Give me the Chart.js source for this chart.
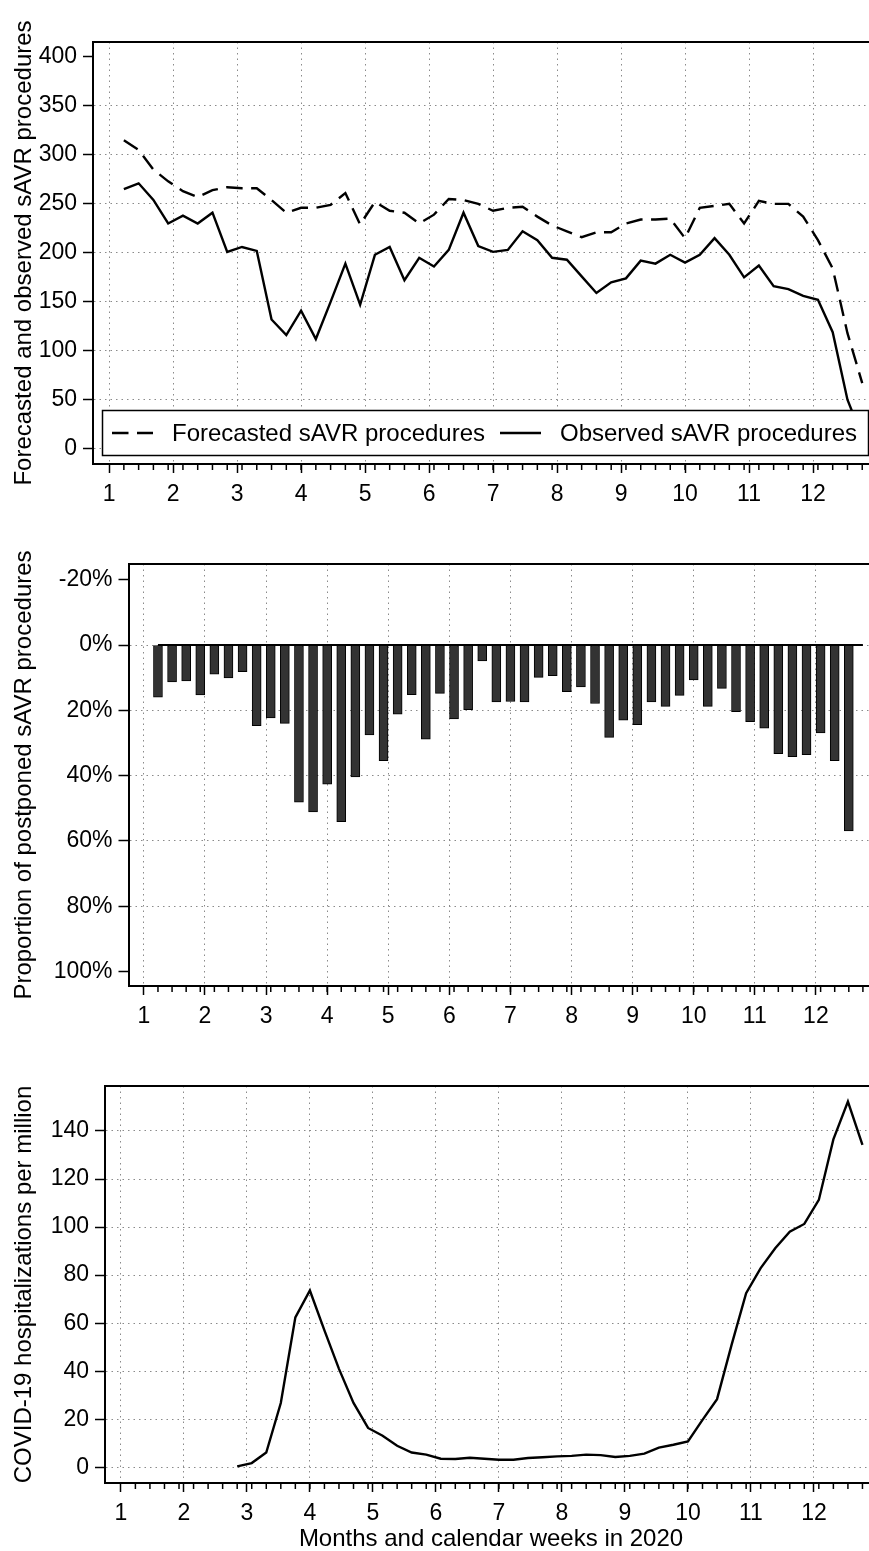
<!DOCTYPE html>
<html>
<head>
<meta charset="utf-8">
<title>sAVR procedures 2020</title>
<script src="https://cdn.jsdelivr.net/npm/chart.js@4.4.1/dist/chart.umd.min.js"></script>
<style>
  html, body { margin: 0; padding: 0; background: #fff; overflow: hidden; }
  #page { position: relative; width: 869px; height: 1551px; overflow: hidden; }
  canvas { position: absolute; left: 0; }
</style>
</head>
<body>
<div id="page">
  <canvas id="grafTop" width="880" height="530" style="top:0px"></canvas>
  <canvas id="grafMid" width="880" height="520" style="top:530px"></canvas>
  <canvas id="grafBot" width="880" height="504" style="top:1050px"></canvas>
</div>
<script>
//Calendar weeks of 2020 and month labels
const weeks = [1, 2, 3, 4, 5, 6, 7, 8, 9, 10, 11, 12, 13, 14, 15, 16, 17, 18, 19, 20,
  21, 22, 23, 24, 25, 26, 27, 28, 29, 30, 31, 32, 33, 34, 35, 36, 37, 38, 39, 40,
  41, 42, 43, 44, 45, 46, 47, 48, 49, 50, 51];
const months = ['1', '2', '3', '4', '5', '6', '7', '8', '9', '10', '11', '12'];

//Forecasted and observed sAVR procedures per week
const forecasted = [315, 305, 285, 273, 263, 257, 264, 267, 266, 266,
  254, 241, 246, 246, 249, 261, 229, 252, 243, 241,
  230, 239, 255, 254, 250, 243, 246, 247, 237, 228,
  222, 216, 221, 221, 230, 234, 234, 235, 215, 246,
  248, 250, 230, 253, 250, 250, 237, 213, 184, 118, 67];
const observed = [265, 271, 254, 230, 238, 230, 241, 201, 206, 202,
  132, 116, 141, 112, 150, 189, 147, 198, 206, 172,
  195, 186, 203, 241, 207, 201, 203, 222, 213, 195,
  193, 176, 159, 170, 174, 192, 189, 198, 190, 198,
  215, 198, 175, 187, 166, 163, 156, 152, 119, 50, 12];

//Proportion of postponed procedures, %
const postponed = [16.0, 11.3, 11.0, 15.3, 8.9, 10.1, 8.2, 24.7, 22.3, 24.0,
  48.1, 51.1, 42.6, 54.1, 40.4, 27.5, 35.4, 21.2, 15.2, 28.8,
  14.8, 22.6, 19.8, 4.9, 17.4, 17.3, 17.4, 9.9, 9.4, 14.3,
  12.8, 17.9, 28.3, 23.0, 24.4, 17.4, 18.8, 15.4, 10.7, 18.8,
  13.3, 20.4, 23.5, 25.5, 33.3, 34.2, 33.6, 26.9, 35.4, 56.9];

//COVID-19 hospitalizations per million
const hospitalizations = [null, null, null, null, null, null, null, 0.4, 1.8, 6.2,
  26.8, 62.4, 73.6, 57, 41, 26.8, 16.4, 13.2, 9.0, 6.2,
  5.3, 3.6, 3.5, 4.0, 3.6, 3.2, 3.2, 3.9, 4.2, 4.6,
  4.8, 5.3, 5.1, 4.3, 4.8, 5.7, 8.2, 9.4, 10.8, 19.8,
  28.4, 51, 72.5, 82.9, 91.2, 98.1, 101.3, 111.3, 136.5, 152.2, 134.2];

//Tick labels of the y axes
const countTicks = [0, 50, 100, 150, 200, 250, 300, 350, 400];
const pctTicks = [-20, 0, 20, 40, 60, 80, 100];
const hospTicks = [0, 20, 40, 60, 80, 100, 120, 140];

const FONT = '"Liberation Sans", Arial, Helvetica, sans-serif';
const GRID = '#8a8a8a';
Chart.defaults.font.family = FONT;
Chart.defaults.color = '#000';
Chart.defaults.animation = false;

const points = (values) => weeks.slice(0, values.length).map((w, i) => ({ x: w, y: values[i] }));

//x axis in weeks, month labels at the month starts
function xAxis(height, title) {
  return {
    type: 'linear', min: -1.09, max: 52, offset: false,
    afterBuildTicks: (s) => { s.ticks = months.map((m, i) => ({ value: i * 52 / 12 })); },
    afterFit: (s) => { s.height = height; },
    ticks: { callback: (v, i) => months[i], font: { size: 23 }, padding: 8, maxRotation: 0, autoSkip: false },
    grid: { offset: false, color: GRID, lineWidth: 1, tickColor: '#000', tickLength: 9, tickWidth: 1.5 },
    border: { color: '#000', width: 2, dash: [1.5, 4] },
    title: title
      ? { display: true, text: title, font: { size: 24 }, padding: { top: 0, bottom: 0 } }
      : { display: false }
  };
}

function yAxis(o) {
  return {
    type: 'linear', min: o.min, max: o.max, reverse: !!o.reverse,
    afterBuildTicks: (s) => { s.ticks = o.ticks.map(v => ({ value: v })); },
    afterFit: (s) => { s.width = o.width; },
    ticks: { callback: o.fmt || (v => String(v)), font: { size: 23 }, padding: 6, autoSkip: false },
    grid: {
      color: (ctx) => (ctx.tick && (o.noGrid || []).includes(ctx.tick.value)) ? 'rgba(0,0,0,0)' : GRID,
      lineWidth: 1, tickColor: '#000', tickLength: 10, tickWidth: 1.5
    },
    border: { color: '#000', width: 2, dash: [1.5, 4] },
    title: { display: true, text: o.title, font: { size: 24 }, padding: { top: 10, bottom: 0 } }
  };
}

//Top and right side of the plot box
const frame = {
  id: 'frame',
  afterDraw(chart) {
    const { ctx, chartArea: a } = chart;
    ctx.save();
    ctx.strokeStyle = '#000';
    ctx.lineWidth = 2;
    ctx.beginPath();
    ctx.moveTo(a.left, a.top);
    ctx.lineTo(a.right, a.top);
    ctx.lineTo(a.right, a.bottom);
    ctx.stroke();
    ctx.restore();
  }
};

//Small ticks for every calendar week
const weekTicks = {
  id: 'weekTicks',
  afterDraw(chart) {
    const { ctx, chartArea: a } = chart;
    const sx = chart.scales.x;
    ctx.save();
    ctx.strokeStyle = '#000';
    ctx.lineWidth = 1.5;
    for (let w = 1; w <= 52; w++) {
      const px = sx.getPixelForValue(w);
      ctx.beginPath();
      ctx.moveTo(px, a.bottom);
      ctx.lineTo(px, a.bottom + 6);
      ctx.stroke();
    }
    ctx.restore();
  }
};

//Legend box inside the plot (bottom of the top panel)
const boxLegend = {
  id: 'boxLegend',
  afterDatasetsDraw(chart) {
    const { ctx, chartArea: a } = chart;
    const x0 = a.left + 9.5, x1 = a.left + 775.5;
    const y0 = a.bottom - 53.5, y1 = a.bottom - 8.5;
    const ym = (y0 + y1) / 2;
    const sampleX = [a.left + 19, a.left + 407];
    ctx.save();
    ctx.fillStyle = '#fff';
    ctx.fillRect(x0, y0, x1 - x0, y1 - y0);
    ctx.strokeStyle = '#000';
    ctx.lineWidth = 1.5;
    ctx.strokeRect(x0, y0, x1 - x0, y1 - y0);
    chart.data.datasets.forEach((ds, i) => {
      const sx = sampleX[i];
      ctx.lineWidth = ds.borderWidth;
      ctx.setLineDash(ds.borderDash || []);
      ctx.beginPath();
      ctx.moveTo(sx, ym);
      ctx.lineTo(sx + 41, ym);
      ctx.stroke();
      ctx.setLineDash([]);
      ctx.fillStyle = '#000';
      ctx.font = '24px ' + FONT;
      ctx.textBaseline = 'middle';
      ctx.fillText(ds.label, sx + 60, ym + 1);
    });
    ctx.restore();
  }
};

const lineStyle = { borderColor: '#000', borderWidth: 2.4, pointRadius: 0, tension: 0, fill: false };
const noLegend = { legend: { display: false }, tooltip: { enabled: false } };

//Panel 1: forecasted and observed procedures
new Chart(document.getElementById('grafTop'), {
  type: 'line',
  data: {
    datasets: [
      { label: 'Forecasted sAVR procedures', data: points(forecasted), borderDash: [16.5, 8.5], ...lineStyle },
      { label: 'Observed sAVR procedures', data: points(observed), ...lineStyle }
    ]
  },
  options: {
    responsive: false,
    layout: { padding: { top: 42, right: 3, left: 0, bottom: 0 } },
    plugins: noLegend,
    scales: {
      x: xAxis(66),
      y: yAxis({ min: -15.6, max: 415.3, ticks: countTicks, width: 93, noGrid: [400],
        title: 'Forecasted and observed sAVR procedures' })
    }
  },
  plugins: [frame, weekTicks, boxLegend]
});

//Panel 2: proportion of postponed procedures
new Chart(document.getElementById('grafMid'), {
  type: 'bar',
  data: {
    datasets: [
      { type: 'line', label: 'zero', data: weeks.map(w => ({ x: w, y: 0 })), ...lineStyle, borderWidth: 2 },
      { type: 'bar', label: 'Postponed', data: points(postponed),
        backgroundColor: '#333333', borderColor: '#000', borderWidth: 1, borderSkipped: false, barThickness: 9 }
    ]
  },
  options: {
    responsive: false,
    layout: { padding: { top: 34, right: 3, left: 0, bottom: 0 } },
    plugins: noLegend,
    scales: {
      x: xAxis(64),
      y: yAxis({ min: -24.8, max: 104.4, reverse: true, ticks: pctTicks, width: 128.5,
        noGrid: [-20, 100], fmt: v => v + '%', title: 'Proportion of postponed sAVR procedures' })
    }
  },
  plugins: [frame, weekTicks]
});

//Panel 3: COVID-19 hospitalizations
new Chart(document.getElementById('grafBot'), {
  type: 'line',
  data: {
    datasets: [
      { label: 'COVID-19 hospitalizations', data: points(hospitalizations), ...lineStyle }
    ]
  },
  options: {
    responsive: false,
    layout: { padding: { top: 36, right: 3, left: 0, bottom: 0 } },
    plugins: noLegend,
    scales: {
      x: xAxis(71, 'Months and calendar weeks in 2020'),
      y: yAxis({ min: -6.5, max: 158.7, ticks: hospTicks, width: 105,
        title: 'COVID-19 hospitalizations per million' })
    }
  },
  plugins: [frame, weekTicks]
});
</script>
</body>
</html>
